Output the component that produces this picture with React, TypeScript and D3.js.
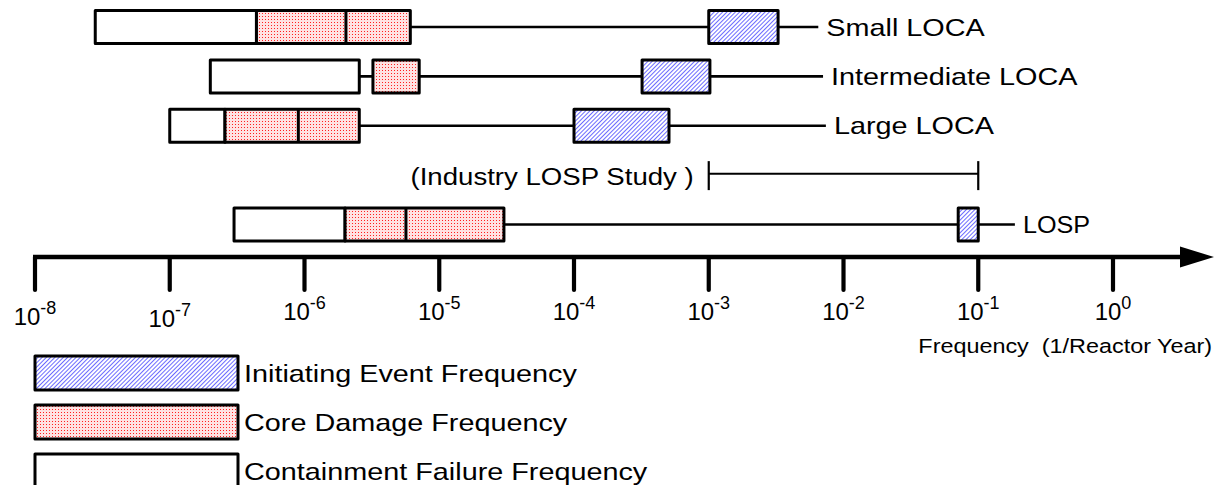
import React from "react";
import * as d3 from "d3";

// ---- data (frequencies, 1/reactor-year) ----
const rowNames = ["Small LOCA", "Intermediate LOCA", "Large LOCA", "(Industry LOSP Study )", "LOSP"];
// containment failure frequency range [low, high]
const cfRanges: [number, number][] = [
  [2.8e-8, 4.4e-7],
  [2.0e-7, 2.55e-6],
  [1.0e-7, 2.57e-7],
  [3.0e-7, 2.0e-6],
];
// core damage frequency [low, mid, high] (mid = null when no divider)
const cdfRanges: [number, number | null, number][] = [
  [4.4e-7, 2.03e-6, 6.1e-6],
  [3.22e-6, null, 7.1e-6],
  [2.57e-7, 9.0e-7, 2.55e-6],
  [2.0e-6, 5.66e-6, 3.02e-5],
];
// initiating event frequency [low, high]
const ieRanges: [number, number][] = [
  [1.0e-3, 3.27e-3],
  [3.2e-4, 1.02e-3],
  [1.0e-4, 5.07e-4],
  [7.1e-2, 1.0e-1],
];
// right end of the connecting line
const lineEnds = [6.5e-3, 7.05e-3, 7.4e-3, 0.187];
const rowIndex = [0, 1, 2, 4];
// industry LOSP study range
const industryRange: [number, number] = [1e-3, 1e-1];

const tickExponents = [-8, -7, -6, -5, -4, -3, -2, -1, 0];
const axisLabel = "Frequency  (1/Reactor Year)";
const legendItems = [
  { label: "Initiating Event Frequency", fill: "url(#hatchBlue)" },
  { label: "Core Damage Frequency", fill: "url(#dotRed)" },
  { label: "Containment Failure Frequency", fill: "#ffffff" },
];

const FONT = "'Liberation Sans', Arial, Helvetica, sans-serif";
const STRETCH = 1.2;

function WideText(props: { x: number; y: number; size: number; anchor?: string; stretch?: number; children: React.ReactNode }) {
  return (
    <text
      transform={`translate(${props.x},${props.y}) scale(${props.stretch ?? STRETCH},1)`}
      fontSize={props.size}
      textAnchor={props.anchor ?? "start"}
      fill="#000"
      style={{ whiteSpace: "pre" }}
    >
      {props.children}
    </text>
  );
}

export default function App() {
  const W = 1216;
  const H = 485;
  const x = d3.scaleLog().domain([1e-8, 1]).range([35, 1113]);
  const y = d3.scalePoint<number>().domain([0, 1, 2, 3, 4]).range([27, 224.5]);
  const boxH = 33;
  const axisY = 257;
  const labelDy: Record<number, number> = { [-8]: 5, [-7]: 7 };

  return (
    <svg
      width={W}
      height={H}
      style={{ position: "absolute", left: 0, top: 0, background: "#fff" }}
      fontFamily={FONT}
    >
      <defs>
        <pattern id="hatchBlue" width="3" height="3" patternUnits="userSpaceOnUse" patternTransform="rotate(45)">
          <rect width="3" height="3" fill="#ffffff" />
          <rect x="0" y="0" width="0.9" height="3" fill="#5a5aff" />
        </pattern>
        <pattern id="dotRed" width="3" height="3" patternUnits="userSpaceOnUse">
          <rect width="3" height="3" fill="#ffe2e2" />
          <rect x="1" y="1" width="1" height="1" fill="#ff2020" />
        </pattern>
      </defs>

      {/* rows */}
      {rowIndex.map((ri, i) => {
        const cy = y(ri)!;
        const top = cy - boxH / 2;
        const cf = cfRanges[i];
        const cdf = cdfRanges[i];
        const ie = ieRanges[i];
        const end = lineEnds[i];
        return (
          <g key={i}>
            <line x1={x(cf[0])} x2={x(end)} y1={cy} y2={cy} stroke="#000" strokeWidth={2.6} />
            <rect
              x={x(cf[0])}
              y={top}
              width={x(cf[1]) - x(cf[0])}
              height={boxH}
              fill="#fff"
              stroke="#000"
              strokeWidth={3}
              strokeLinejoin="round"
            />
            <rect
              x={x(cdf[0])}
              y={top}
              width={x(cdf[2]) - x(cdf[0])}
              height={boxH}
              fill="url(#dotRed)"
              stroke="#000"
              strokeWidth={3}
              strokeLinejoin="round"
            />
            {cdf[1] !== null && (
              <line x1={x(cdf[1])} x2={x(cdf[1])} y1={top} y2={top + boxH} stroke="#000" strokeWidth={3} />
            )}
            <rect
              x={x(ie[0])}
              y={top}
              width={x(ie[1]) - x(ie[0])}
              height={boxH}
              fill="url(#hatchBlue)"
              stroke="#000"
              strokeWidth={3}
              strokeLinejoin="round"
            />
            <WideText x={x(end) + 8} y={cy + 8.5} size={24} stretch={ri === 4 ? 1.05 : STRETCH}>
              {rowNames[ri]}
            </WideText>
          </g>
        );
      })}

      {/* industry study bracket */}
      <g>
        <line x1={x(industryRange[0])} x2={x(industryRange[1])} y1={y(3)! - 1.5} y2={y(3)! - 1.5} stroke="#000" strokeWidth={2} />
        <line x1={x(industryRange[0])} x2={x(industryRange[0])} y1={y(3)! - 14} y2={y(3)! + 15} stroke="#000" strokeWidth={2.2} />
        <line x1={x(industryRange[1])} x2={x(industryRange[1])} y1={y(3)! - 14} y2={y(3)! + 15} stroke="#000" strokeWidth={2.2} />
        <WideText x={x(industryRange[0]) - 15} y={y(3)! + 10} size={24} anchor="end" stretch={1.15}>
          {rowNames[3]}
        </WideText>
      </g>

      {/* axis */}
      <line x1={33} x2={1185} y1={axisY} y2={axisY} stroke="#000" strokeWidth={4.5} />
      <polygon points={`1180,${axisY - 10.5} 1214,${axisY} 1180,${axisY + 10.5}`} fill="#000" />
      {tickExponents.map((e) => {
        const tx = x(Math.pow(10, e));
        const dy = labelDy[e] ?? 0;
        return (
          <g key={e}>
            <line x1={tx} x2={tx} y1={axisY} y2={290} stroke="#000" strokeWidth={4.2} strokeLinecap="round" />
            <text x={tx} y={320 + dy} fontSize={24} textAnchor="middle" fill="#000">
              10
              <tspan fontSize={18} dy={-11}>
                {e}
              </tspan>
            </text>
          </g>
        );
      })}
      <WideText x={1212} y={353} size={19.5} anchor="end">
        {axisLabel}
      </WideText>

      {/* legend */}
      {legendItems.map((it, i) => {
        const top = 356 + i * 49;
        return (
          <g key={it.label}>
            <rect x={35} y={top} width={203} height={34} fill={it.fill} stroke="#000" strokeWidth={3} strokeLinejoin="round" />
            <WideText x={244} y={top + 25.5} size={24}>
              {it.label}
            </WideText>
          </g>
        );
      })}
    </svg>
  );
}
